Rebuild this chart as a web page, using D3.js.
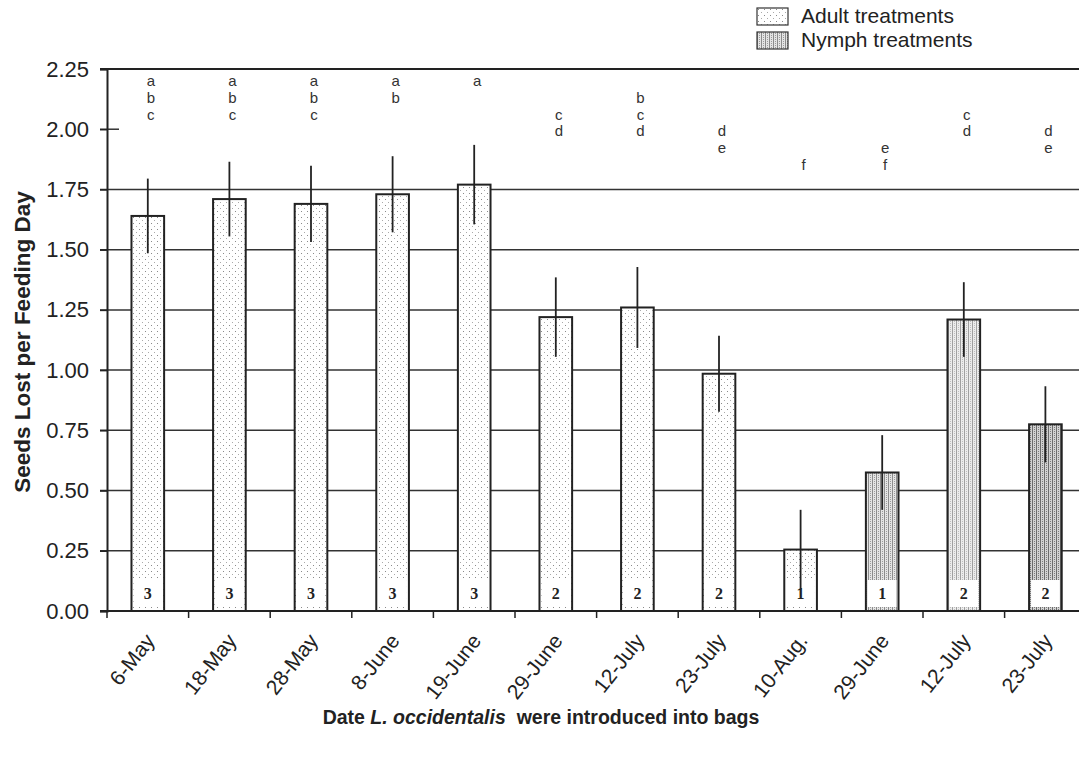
<!DOCTYPE html>
<html>
<head>
<meta charset="utf-8">
<script src="https://cdn.jsdelivr.net/npm/d3@7"></script>
<style>
  body { margin: 0; background: #fff; }
  svg { display: block; font-family: "Liberation Sans", Arial, sans-serif; }
</style>
</head>
<body>
<svg id="chart" width="1079" height="757"></svg>
<script>
// values
const dates = ["6-May", "18-May", "28-May", "8-June", "19-June", "29-June", "12-July", "23-July", "10-Aug.", "29-June", "12-July", "23-July"];
const means = [1.64, 1.71, 1.69, 1.73, 1.77, 1.22, 1.26, 0.985, 0.255, 0.575, 1.21, 0.775];
const errs = [0.155, 0.155, 0.158, 0.158, 0.165, 0.165, 0.168, 0.158, 0.165, 0.155, 0.155, 0.158];
const letters = ["abc", "abc", "abc", "ab", "a", "cd", "bcd", "de", "f", "ef", "cd", "de"];
const reps = [3, 3, 3, 3, 3, 2, 2, 2, 1, 1, 2, 2];
const fills = ["adult", "adult", "adult", "adult", "adult", "adult", "adult", "adult", "adult", "nymphA", "nymphB", "nymphC"];
const yTicks = [0, 0.25, 0.5, 0.75, 1.0, 1.25, 1.5, 1.75, 2.0, 2.25];
const legendItems = [["adult", "Adult treatments"], ["nymphA", "Nymph treatments"]];

const svg = d3.select("#chart");
const plotLeft = 107, plotBottom = 611, plotTop = 69;
const step = 81.6;

const x = d3.scaleBand()
    .domain(d3.range(dates.length))
    .range([plotLeft, plotLeft + step * dates.length])
    .paddingInner(0.6)
    .paddingOuter(0.3);

const y = d3.scaleLinear().domain([0, 2.25]).range([plotBottom, plotTop]);

// fill patterns
const defs = svg.append("defs");

const pA = defs.append("pattern").attr("id", "adult")
    .attr("width", 6).attr("height", 6).attr("patternUnits", "userSpaceOnUse");
pA.append("rect").attr("width", 6).attr("height", 6).attr("fill", "#fff");
pA.append("rect").attr("x", 1).attr("y", 1).attr("width", 1).attr("height", 1).attr("fill", "#8a8a8a");
pA.append("rect").attr("x", 4).attr("y", 4).attr("width", 1).attr("height", 1).attr("fill", "#aaa");

function stripes(id, bg, line, dot) {
    const p = defs.append("pattern").attr("id", id)
        .attr("width", 4).attr("height", 4).attr("patternUnits", "userSpaceOnUse");
    p.append("rect").attr("width", 4).attr("height", 4).attr("fill", bg);
    p.append("rect").attr("x", 0).attr("width", 1).attr("height", 4).attr("fill", line);
    p.append("rect").attr("x", 2).attr("y", 1).attr("width", 1).attr("height", 1).attr("fill", dot);
    p.append("rect").attr("x", 2).attr("y", 3).attr("width", 1).attr("height", 1).attr("fill", dot);
}
stripes("nymphA", "#e4e4e4", "#8c8c8c", "#9a9a9a");
stripes("nymphB", "#ececec", "#a0a0a0", "#bdbdbd");
stripes("nymphC", "#d2d2d2", "#6c6c6c", "#7a7a7a");

// gridlines (none drawn at 2.00 in the original)
svg.append("g").selectAll("line")
    .data(yTicks.filter(d => d > 0 && d < 2))
    .join("line")
    .attr("x1", plotLeft - 7).attr("x2", 1079)
    .attr("y1", d => y(d)).attr("y2", d => y(d))
    .attr("stroke", "#333").attr("stroke-width", 1.5);

svg.append("line")
    .attr("x1", plotLeft - 7).attr("x2", 1079)
    .attr("y1", y(2.25)).attr("y2", y(2.25))
    .attr("stroke", "#222").attr("stroke-width", 2);

svg.append("line")
    .attr("x1", plotLeft - 7).attr("x2", plotLeft + 12)
    .attr("y1", y(2)).attr("y2", y(2))
    .attr("stroke", "#333").attr("stroke-width", 1.5);

// y axis
const yAxis = svg.append("g")
    .attr("transform", `translate(${plotLeft},0)`)
    .call(d3.axisLeft(y).tickValues(yTicks).tickFormat(d3.format(".2f")).tickSize(7).tickPadding(11));
yAxis.select(".domain").attr("stroke", "#222").attr("stroke-width", 2);
yAxis.selectAll(".tick line").attr("stroke", "#222").attr("stroke-width", 1.5);
yAxis.selectAll("text")
    .attr("font-size", 22).attr("fill", "#222")
    .attr("font-family", "Liberation Sans, Arial, sans-serif");

// bars
const bars = svg.append("g").selectAll("g")
    .data(dates.map((d, i) => i))
    .join("g");

bars.append("rect")
    .attr("x", i => x(i))
    .attr("y", i => y(means[i]))
    .attr("width", x.bandwidth())
    .attr("height", i => y(0) - y(means[i]))
    .attr("fill", i => `url(#${fills[i]})`)
    .attr("stroke", "#222")
    .attr("stroke-width", 2);

// replicate boxes
bars.append("rect")
    .attr("x", i => x(i) + 2)
    .attr("y", y(0) - 31)
    .attr("width", x.bandwidth() - 4)
    .attr("height", 27)
    .attr("fill", "#fff");

bars.append("text")
    .attr("x", i => x(i) + x.bandwidth() / 2)
    .attr("y", y(0) - 12)
    .attr("text-anchor", "middle")
    .attr("font-family", "Liberation Serif, Times New Roman, serif")
    .attr("font-weight", "bold")
    .attr("font-size", 16)
    .attr("fill", "#222")
    .text(i => reps[i]);

// error bars
bars.append("line")
    .attr("x1", i => x(i) + x.bandwidth() / 2)
    .attr("x2", i => x(i) + x.bandwidth() / 2)
    .attr("y1", i => y(means[i] + errs[i]))
    .attr("y2", i => y(means[i] - errs[i]))
    .attr("stroke", "#222")
    .attr("stroke-width", 1.8);

// significance letters, one row per letter
bars.each(function(i) {
    const g = d3.select(this);
    letters[i].split("").forEach(ch => {
        const row = "abcdef".indexOf(ch);
        g.append("text")
            .attr("x", x(i) + x.bandwidth() / 2 + 3)
            .attr("y", 86 + row * 16.8)
            .attr("text-anchor", "middle")
            .attr("font-size", 15)
            .attr("fill", "#333")
            .text(ch);
    });
});

// x axis
svg.append("line")
    .attr("x1", plotLeft - 7).attr("x2", 1079)
    .attr("y1", y(0)).attr("y2", y(0))
    .attr("stroke", "#222").attr("stroke-width", 2);

svg.append("g").selectAll("line")
    .data(d3.range(dates.length + 1))
    .join("line")
    .attr("x1", i => plotLeft + i * x.step()).attr("x2", i => plotLeft + i * x.step())
    .attr("y1", y(0)).attr("y2", y(0) + 7)
    .attr("stroke", "#222").attr("stroke-width", 1.5);

svg.append("g").selectAll("text")
    .data(dates.map((d, i) => i))
    .join("text")
    .attr("transform", i => `translate(${x(i) + x.bandwidth() / 2 + 8},${y(0) + 30}) rotate(-52)`)
    .attr("text-anchor", "end")
    .attr("font-size", 21)
    .attr("fill", "#222")
    .text(i => dates[i]);

// axis titles
svg.append("text")
    .attr("transform", `translate(30,342) rotate(-90)`)
    .attr("text-anchor", "middle")
    .attr("font-size", 22.5)
    .attr("font-weight", "bold")
    .attr("fill", "#222")
    .text("Seeds Lost per Feeding Day");

const xt = svg.append("text")
    .attr("x", 541).attr("y", 724)
    .attr("text-anchor", "middle")
    .attr("font-size", 19.5)
    .attr("font-weight", "bold")
    .attr("fill", "#222")
    .attr("xml:space", "preserve");
xt.append("tspan").text("Date ");
xt.append("tspan").attr("font-style", "italic").text("L. occidentalis");
xt.append("tspan").text("  were introduced into bags");

// legend
const leg = svg.append("g").selectAll("g")
    .data(legendItems)
    .join("g")
    .attr("transform", (d, i) => `translate(757,${8 + i * 24})`);
leg.append("rect")
    .attr("width", 31).attr("height", 17)
    .attr("fill", d => `url(#${d[0]})`)
    .attr("stroke", "#333").attr("stroke-width", 1.2);
leg.append("text")
    .attr("x", 44).attr("y", 15)
    .attr("font-size", 21)
    .attr("fill", "#222")
    .text(d => d[1]);
</script>
</body>
</html>
